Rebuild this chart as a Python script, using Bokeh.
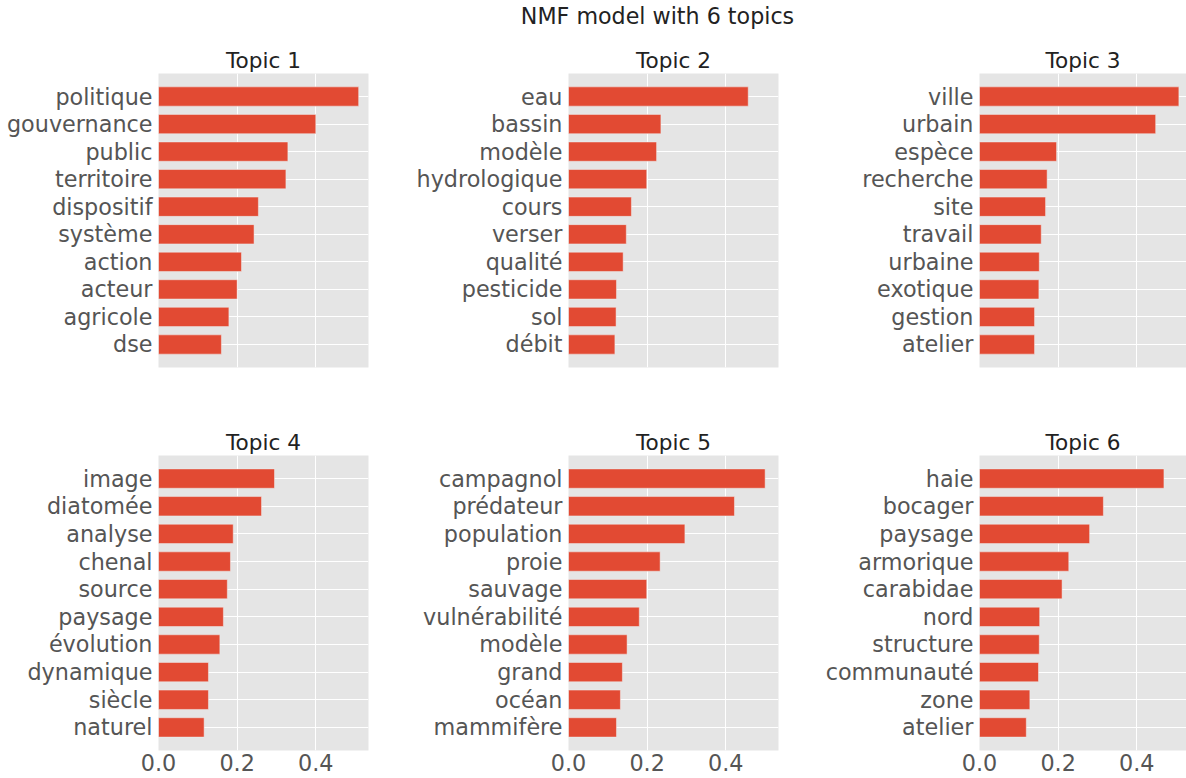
from bokeh.plotting import figure
from bokeh.layouts import column, row
from bokeh.models import Range1d, FactorRange, FixedTicker, PrintfTickFormatter
from bokeh.embed import file_html
from bokeh.resources import INLINE

# ---------------- data ----------------
suptitle = "NMF model with 6 topics"
topic_titles = ["Topic 1", "Topic 2", "Topic 3", "Topic 4", "Topic 5", "Topic 6"]

words_1 = ["politique", "gouvernance", "public", "territoire", "dispositif",
           "système", "action", "acteur", "agricole", "dse"]
values_1 = [0.509, 0.400, 0.329, 0.324, 0.254, 0.243, 0.211, 0.200, 0.179, 0.160]

words_2 = ["eau", "bassin", "modèle", "hydrologique", "cours",
           "verser", "qualité", "pesticide", "sol", "débit"]
values_2 = [0.457, 0.235, 0.224, 0.199, 0.160, 0.147, 0.139, 0.122, 0.121, 0.118]

words_3 = ["ville", "urbain", "espèce", "recherche", "site",
           "travail", "urbaine", "exotique", "gestion", "atelier"]
values_3 = [0.507, 0.448, 0.196, 0.172, 0.168, 0.157, 0.152, 0.151, 0.140, 0.140]

words_4 = ["image", "diatomée", "analyse", "chenal", "source",
           "paysage", "évolution", "dynamique", "siècle", "naturel"]
values_4 = [0.295, 0.262, 0.190, 0.183, 0.175, 0.165, 0.156, 0.127, 0.127, 0.116]

words_5 = ["campagnol", "prédateur", "population", "proie", "sauvage",
           "vulnérabilité", "modèle", "grand", "océan", "mammifère"]
values_5 = [0.500, 0.422, 0.296, 0.233, 0.199, 0.180, 0.149, 0.137, 0.132, 0.122]

words_6 = ["haie", "bocager", "paysage", "armorique", "carabidae",
           "nord", "structure", "communauté", "zone", "atelier"]
values_6 = [0.469, 0.315, 0.280, 0.227, 0.210, 0.153, 0.152, 0.150, 0.128, 0.119]

x_ticks = [0.0, 0.2, 0.4]
x_max = 0.534

# ---------------- style ----------------
FONT = "DejaVu Sans"
BAR_COLOR = "#E24A33"
BAR_EDGE = "#EEEEEE"
PANEL_BG = "#E5E5E5"
TICK_COLOR = "#555555"
TITLE_COLOR = "#222222"

COL_LEFT = [158, 160, 160]
COL_RIGHT = [40, 41, 0]
COL_FRAME_W = [210, 210, 207]
TITLE_FIG_H = 44
ROW_TOP = [27, 38]
ROW_FRAME_H = [294, 295]
ROW_BOTTOM = [50, 30]

px_per_unit = 210 / x_max


def make_panel(title, words, values, col, r):
    fw = COL_FRAME_W[col]
    x_range = Range1d(0, fw / px_per_unit)
    y_range = FactorRange(factors=list(reversed(words)),
                          range_padding=0.335, range_padding_units="absolute")
    p = figure(title=title, x_range=x_range, y_range=y_range,
               frame_width=fw, frame_height=ROW_FRAME_H[r],
               min_border_left=COL_LEFT[col], min_border_right=COL_RIGHT[col],
               min_border_top=ROW_TOP[r], min_border_bottom=ROW_BOTTOM[r],
               toolbar_location=None, output_backend="svg")
    p.hbar(y=words, left=0, right=values, height=0.7,
           fill_color=BAR_COLOR, line_color=BAR_EDGE, line_width=0.5)

    p.background_fill_color = PANEL_BG
    p.border_fill_color = "white"
    p.outline_line_color = None

    p.title.text_font = FONT
    p.title.text_font_size = "21.6px"
    p.title.text_font_style = "normal"
    p.title.text_color = TITLE_COLOR
    p.title.align = "center"
    p.title.standoff = 2

    p.xaxis.ticker = FixedTicker(ticks=x_ticks)
    p.xaxis.formatter = PrintfTickFormatter(format="%.1f")
    for ax in (p.xaxis, p.yaxis):
        ax.axis_line_color = None
        ax.major_tick_line_color = None
        ax.minor_tick_line_color = None
        ax.major_tick_out = 0
        ax.major_tick_in = 0
        ax.major_label_text_font = FONT
        ax.major_label_text_font_size = "22.3px"
        ax.major_label_text_color = TICK_COLOR
    p.yaxis.major_label_standoff = 6
    p.xaxis.major_label_standoff = 3
    if r == 0:
        p.xaxis.visible = False

    p.xgrid.grid_line_color = "white"
    p.xgrid.grid_line_width = 1
    p.ygrid.grid_line_color = "white"
    p.ygrid.grid_line_width = 1
    return p


all_words = [words_1, words_2, words_3, words_4, words_5, words_6]
all_values = [values_1, values_2, values_3, values_4, values_5, values_6]

panels = []
for i in range(6):
    panels.append(make_panel(topic_titles[i], all_words[i], all_values[i], i % 3, i // 3))

# title figure
t = figure(width=1186, height=TITLE_FIG_H, title=suptitle,
           min_border_left=128, min_border_right=0, min_border_top=0, min_border_bottom=0,
           x_axis_location=None, y_axis_location=None,
           toolbar_location=None, output_backend="svg")
t.outline_line_color = None
t.background_fill_alpha = 0
t.border_fill_color = "white"
t.grid.visible = False
t.title.text_font = FONT
t.title.text_font_size = "22.2px"
t.title.text_font_style = "normal"
t.title.text_color = TITLE_COLOR
t.title.align = "center"
t.title.standoff = 0

layout = column(t, row(*panels[:3]), row(*panels[3:]))

open("out.html", "w").write(file_html(layout, INLINE))
